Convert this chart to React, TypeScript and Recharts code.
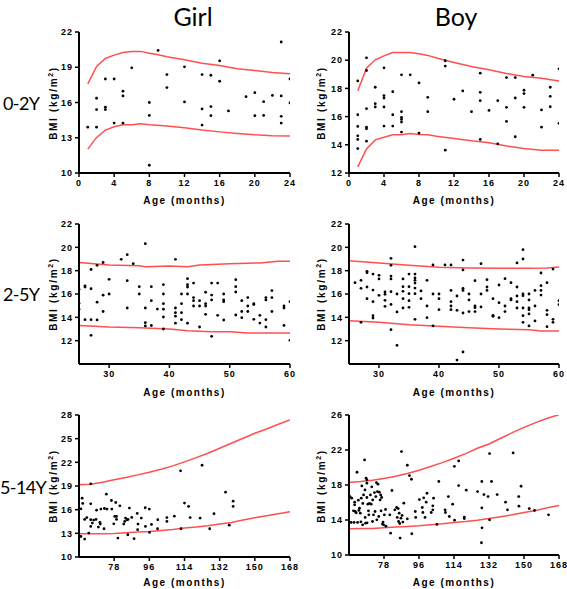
import { ComposedChart, Line, Scatter, XAxis, YAxis } from "recharts";

type Pt = [number, number];

// 0-2Y
const girlInfantPoints: Pt[] = [
  [1, 13.9], [2, 16.36], [2, 15.4], [2, 13.9], [3, 18.0], [3, 15.6], [3, 15.4], [4, 18.0], [4, 14.25],
  [5, 16.96], [5, 16.56], [5, 14.25], [6, 18.95], [8, 16.0], [8, 14.9], [8, 10.66], [9, 20.43], [10, 18.38],
  [10, 17.27], [12, 19.04], [12, 16.05], [14, 18.38], [14, 15.45], [14, 14.08], [15, 18.32], [15, 15.65],
  [15, 14.88], [16, 19.55], [16, 17.81], [17, 15.28], [19, 16.5], [20, 16.84], [20, 14.88], [21, 16.07],
  [21, 14.9], [22, 16.6], [23, 21.15], [23, 16.56], [23, 14.82], [23, 14.25], [24, 18.0], [24, 15.96],
];
const girlInfantUpper: Pt[] = [
  [1, 17.58], [2, 19.07], [3, 19.75], [4, 20.03], [5, 20.26], [6, 20.35], [7, 20.35], [8, 20.2], [9, 20.06],
  [10, 19.9], [12, 19.64], [14, 19.35], [16, 19.15], [18, 18.87], [20, 18.72], [22, 18.55], [24, 18.44],
];
const girlInfantLower: Pt[] = [
  [1, 12.03], [2, 13.03], [3, 13.65], [4, 13.94], [5, 14.1], [6, 14.1], [7, 14.2], [8, 14.1], [10, 14.0],
  [12, 13.85], [14, 13.65], [16, 13.5], [18, 13.37], [20, 13.25], [22, 13.17], [24, 13.14],
];

const boyInfantPoints: Pt[] = [
  [1, 18.53], [1, 16.13], [1, 15.3], [1, 14.64], [1, 14.38], [1, 13.73], [2, 20.17], [2, 19.27], [2, 16.56],
  [2, 15.25], [2, 15.14], [2, 14.26], [3, 18.08], [3, 16.92], [3, 16.68], [4, 19.46], [4, 17.49], [4, 17.32],
  [4, 16.68], [4, 15.33], [5, 17.77], [5, 16.13], [5, 15.33], [6, 18.96], [6, 16.35], [6, 15.94], [6, 15.8],
  [6, 15.61], [6, 14.9], [7, 18.96], [8, 18.39], [8, 14.83], [9, 17.37], [9, 16.35], [11, 19.96], [11, 19.58],
  [11, 13.62], [12, 17.23], [13, 17.82], [14, 16.35], [15, 19.08], [15, 17.72], [15, 17.13], [15, 14.38],
  [16, 16.44], [17, 17.13], [17, 14.07], [18, 18.77], [18, 16.66], [18, 15.66], [19, 18.77], [19, 17.32],
  [19, 14.57], [20, 17.87], [20, 17.63], [20, 16.66], [21, 18.94], [22, 16.47], [22, 15.25], [23, 18.08],
  [23, 17.44], [23, 16.7], [24, 19.39], [24, 15.52],
];
const boyInfantUpper: Pt[] = [
  [1, 17.84], [2, 19.43], [3, 20.03], [4, 20.31], [5, 20.55], [6, 20.55], [7, 20.55], [8, 20.46], [9, 20.34],
  [10, 20.15], [12, 19.84], [14, 19.55], [16, 19.32], [18, 19.06], [20, 18.84], [22, 18.72], [24, 18.53],
];
const boyInfantLower: Pt[] = [
  [1, 12.43], [2, 13.71], [3, 14.35], [4, 14.54], [5, 14.71], [6, 14.71], [7, 14.8], [8, 14.73], [9, 14.71],
  [10, 14.61], [12, 14.45], [14, 14.28], [16, 14.14], [18, 13.92], [20, 13.73], [22, 13.62], [24, 13.62],
];

// 2-5Y
const girlToddlerPoints: Pt[] = [
  [25, 16.4], [25, 15.2], [25, 14.7], [26, 16.7], [26, 16.6], [26, 13.8], [27, 18.1], [27, 16.45], [27, 13.8],
  [27, 12.46], [28, 18.46], [28, 15.3], [28, 13.78], [29, 18.7], [29, 15.9], [29, 14.5], [30, 17.26], [30, 16.0],
  [32, 18.97], [33, 19.37], [33, 17.14], [33, 14.8], [34, 18.6], [35, 16.63], [35, 16.0], [36, 20.31],
  [36, 14.8], [36, 13.54], [36, 13.26], [37, 16.63], [37, 15.43], [37, 13.3], [38, 14.71], [39, 16.8],
  [39, 16.0], [39, 15.17], [39, 14.7], [39, 14.03], [39, 13.0], [41, 18.97], [41, 14.8], [41, 14.4], [41, 14.1],
  [41, 13.5], [42, 16.0], [42, 15.17], [42, 14.4], [42, 13.8], [43, 17.31], [43, 16.8], [43, 16.6], [43, 16.0],
  [43, 13.5], [44, 16.94], [44, 15.69], [44, 15.43], [44, 14.97], [45, 15.43], [45, 14.97], [45, 13.17],
  [46, 16.15], [46, 15.17], [46, 14.97], [46, 14.26], [47, 16.94], [47, 15.91], [47, 15.49], [47, 12.37],
  [48, 16.94], [48, 14.17], [49, 16.0], [49, 15.49], [49, 15.34], [49, 13.77], [51, 17.23], [51, 16.63],
  [51, 16.17], [51, 14.2], [52, 15.43], [52, 14.5], [52, 13.97], [53, 15.69], [53, 14.97], [53, 14.5],
  [54, 15.17], [54, 15.1], [54, 13.83], [55, 14.17], [55, 13.51], [56, 15.69], [56, 15.49], [56, 13.8],
  [56, 13.17], [57, 16.29], [57, 15.69], [57, 14.5], [59, 14.97], [59, 14.8], [59, 13.31], [60, 15.34], [60, 12.03],
];
const girlToddlerUpper: Pt[] = [
  [25, 18.71], [30, 18.49], [35, 18.43], [36, 18.34], [40, 18.4], [43, 18.34], [45, 18.49], [50, 18.6],
  [55, 18.66], [58, 18.8], [60, 18.8],
];
const girlToddlerLower: Pt[] = [
  [25, 13.29], [30, 13.17], [35, 13.11], [40, 13.0], [43, 12.86], [47, 12.77], [50, 12.77], [53, 12.66], [60, 12.66],
];

const boyToddlerPoints: Pt[] = [
  [26, 16.97], [27, 17.17], [27, 16.49], [27, 13.57], [28, 17.94], [28, 17.83], [28, 16.6], [28, 15.6],
  [29, 17.71], [29, 16.34], [29, 15.34], [29, 14.14], [29, 13.94], [30, 17.6], [30, 17.29], [30, 15.89],
  [31, 16.17], [31, 15.97], [31, 15.46], [31, 14.94], [32, 19.06], [32, 18.46], [32, 17.54], [32, 17.29],
  [32, 16.2], [32, 15.11], [32, 12.94], [33, 16.0], [33, 14.46], [33, 11.6], [34, 17.29], [34, 16.63],
  [34, 16.23], [34, 15.6], [34, 14.8], [35, 17.71], [35, 16.63], [35, 16.03], [35, 15.43], [35, 14.86],
  [36, 20.06], [36, 17.71], [36, 17.37], [36, 17.17], [36, 16.94], [36, 16.51], [36, 16.03], [36, 13.83],
  [37, 16.26], [37, 15.6], [38, 17.17], [38, 14.97], [38, 13.97], [39, 18.49], [39, 16.0], [39, 13.26],
  [40, 16.0], [40, 15.6], [40, 14.66], [41, 18.49], [42, 18.49], [42, 16.31], [42, 15.34], [42, 14.97],
  [42, 14.66], [43, 15.83], [43, 14.6], [43, 10.34], [44, 18.91], [44, 18.06], [44, 16.49], [44, 16.31],
  [44, 14.37], [44, 11.03], [45, 16.0], [45, 15.49], [45, 14.49], [46, 17.14], [46, 14.97], [46, 14.83],
  [46, 14.49], [47, 18.6], [47, 16.0], [47, 14.89], [48, 17.23], [48, 16.6], [48, 16.31], [49, 15.6],
  [49, 14.17], [49, 14.09], [50, 16.77], [50, 15.26], [50, 13.97], [51, 17.31], [51, 14.97], [51, 14.49],
  [52, 16.97], [52, 15.6], [52, 15.49], [53, 18.66], [53, 16.6], [53, 15.83], [53, 15.34], [53, 14.8],
  [54, 19.8], [54, 19.0], [54, 16.0], [54, 15.86], [54, 14.8], [54, 14.14], [54, 13.57], [55, 16.0],
  [55, 15.49], [55, 14.8], [55, 14.66], [55, 14.29], [55, 13.26], [56, 16.31], [56, 14.97], [56, 13.69],
  [57, 17.8], [57, 16.71], [57, 16.31], [57, 15.91], [58, 16.97], [58, 14.6], [58, 14.23], [58, 13.2],
  [59, 18.14], [59, 13.83], [59, 13.57], [60, 15.43], [60, 15.09],
];
const boyToddlerUpper: Pt[] = [
  [25, 18.86], [30, 18.66], [35, 18.46], [40, 18.29], [45, 18.23], [50, 18.2], [55, 18.2], [58, 18.23], [60, 18.31],
];
const boyToddlerLower: Pt[] = [
  [25, 13.71], [30, 13.57], [35, 13.37], [40, 13.23], [45, 13.11], [50, 13.0], [55, 12.94], [57, 12.83], [60, 12.83],
];

// 5-14Y
const girlChildPoints: Pt[] = [
  [61.6, 17.46], [61.9, 16.79], [61, 16.11], [61, 12.6], [62.9, 14.76], [62.9, 12.27], [64, 15.0], [65, 13.03],
  [66, 19.27], [66, 16.74], [66, 14.72], [66, 13.88], [66.8, 14.3], [67.5, 14.68], [68.7, 14.76], [69, 15.94],
  [69.9, 13.79], [70.7, 14.38], [70.9, 14.17], [71.2, 16.07], [72.8, 13.58], [73, 16.15], [74, 17.97],
  [74.3, 16.07], [76.6, 17.16], [76.8, 16.07], [77.8, 14.21], [78.3, 15.14], [78.8, 16.91], [79.2, 15.14],
  [79.2, 14.76], [79.9, 12.4], [80.9, 16.49], [82.9, 14.17], [83.4, 14.51], [83.8, 14.93], [84.6, 14.72],
  [85, 12.82], [85.1, 14.76], [85.8, 16.2], [87, 15.02], [88.2, 12.32], [89.8, 15.52], [90, 13.46],
  [90.2, 14.17], [91.9, 14.93], [93.9, 16.24], [94, 13.88], [96, 16.07], [96.1, 13.12], [97.1, 14.13],
  [100.2, 13.58], [100.3, 14.72], [105, 15.0], [105, 14.51], [108.8, 15.18], [112, 20.92], [112.2, 13.58],
  [114, 16.83], [116.1, 16.41], [116.9, 15.0], [122, 14.93], [123, 21.63], [126.9, 13.58], [129.1, 15.48],
  [135, 18.22], [136.9, 14.04], [138.9, 17.08], [138.9, 16.41],
];
const girlChildUpper: Pt[] = [
  [60, 19.15], [66, 19.23], [72, 19.48], [78, 19.78], [84, 20.07], [90, 20.41], [96, 20.75], [102, 21.13],
  [108, 21.55], [114, 22.06], [120, 22.6], [126, 23.15], [132, 23.78], [138, 24.42], [144, 25.05],
  [150, 25.68], [156, 26.23], [162, 26.82], [168, 27.37],
];
const girlChildLower: Pt[] = [
  [60, 12.95], [66, 12.95], [72, 12.95], [78, 12.99], [84, 13.08], [90, 13.16], [96, 13.24], [102, 13.37],
  [108, 13.5], [114, 13.67], [120, 13.79], [126, 13.96], [132, 14.17], [138, 14.38], [144, 14.68],
  [150, 14.97], [156, 15.23], [162, 15.48], [168, 15.73],
];

const boyChildPoints: Pt[] = [
  [60.5, 16.68], [61.4, 16.49], [61.1, 13.72], [62.3, 15.05], [62.6, 13.72], [62.9, 16.04], [62.9, 15.73],
  [63.2, 14.97], [63.7, 14.82], [64.1, 19.46], [64.4, 13.72], [64.8, 16.27], [65.1, 15.09], [65.4, 15.35],
  [65.8, 14.78], [66.1, 13.79], [66.3, 16.49], [66.6, 17.9], [67, 13.45], [67.1, 15.89], [67.5, 16.87],
  [68, 20.87], [68.2, 17.44], [68.3, 14.29], [68.5, 13.64], [68.8, 18.78], [69.2, 18.59], [69.2, 18.21],
  [69.2, 16.57], [69.3, 13.68], [69.7, 15.81], [70, 15.05], [70.2, 14.59], [70.5, 15.89], [71, 16.87],
  [71.4, 15.81], [71.7, 17.79], [72.1, 13.83], [72.2, 16.3], [72.6, 14.59], [73.1, 17.14], [73.4, 14.97],
  [73.8, 16.68], [74.1, 18.28], [74.3, 14.02], [74.6, 17.25], [74.9, 18.09], [75.3, 14.4], [75.6, 17.18],
  [76, 16.3], [76.3, 16.87], [76.5, 15.05], [76.8, 16.57], [77.2, 13.53], [77.5, 13.76], [77.8, 13.45],
  [78.2, 14.59], [78.8, 15.2], [79, 13.3], [81, 14.59], [81.4, 12.5], [82.1, 17.37], [83.6, 15.16],
  [84.5, 15.43], [84.8, 14.29], [85.3, 15.31], [85.5, 13.83], [85.8, 14.78], [86.1, 13.6], [86.3, 11.93],
  [86.7, 14.21], [87, 21.82], [87.3, 14.52], [87.7, 13.76], [88.2, 15.92], [90, 14.14], [90, 20.26],
  [91.1, 19.08], [92.1, 18.66], [92.3, 12.43], [94.1, 14.97], [94.3, 14.29], [96.2, 16.34], [97.7, 15.43],
  [98, 14.86], [98.4, 16.53], [99.1, 14.29], [99.7, 16.04], [100.1, 17.06], [102.3, 14.86], [103.1, 15.62],
  [103.1, 15.16], [103.5, 16.49], [105.2, 13.49], [106.2, 18.4], [109.4, 15.16], [109.6, 14.86],
  [111.1, 16.68], [111.6, 14.4], [113.3, 15.81], [114.2, 20.14], [114.3, 13.98], [116.4, 20.75],
  [116.4, 17.94], [119.3, 14.33], [119.3, 14.17], [120.3, 17.41], [126.1, 17.25], [128.1, 11.4],
  [128.3, 18.4], [128.3, 15.39], [128.4, 13.11], [129.4, 16.91], [131.5, 16.68], [132.3, 21.59],
  [132.3, 14.02], [133.3, 18.4], [136.2, 16.91], [140.5, 16.04], [141.5, 15.16], [144.4, 21.67],
  [147.3, 16.68], [147.4, 15.58], [148.5, 17.86], [152.7, 15.31], [155.4, 15.09], [162.6, 14.59],
];
const boyChildUpper: Pt[] = [
  [60, 18.28], [66, 18.4], [72, 18.55], [78, 18.74], [84, 19.0], [90, 19.31], [96, 19.69], [102, 20.11],
  [108, 20.56], [114, 21.06], [120, 21.59], [126, 22.2], [132, 22.69], [138, 23.34], [144, 23.98],
  [150, 24.59], [156, 25.13], [162, 25.62], [168, 26.04],
];
const boyChildLower: Pt[] = [
  [60, 12.99], [66, 13.03], [72, 13.03], [78, 13.11], [84, 13.19], [90, 13.26], [96, 13.34], [102, 13.45],
  [108, 13.57], [114, 13.72], [120, 13.83], [126, 13.98], [132, 14.17], [138, 14.37], [144, 14.59],
  [150, 14.86], [156, 15.09], [162, 15.39], [168, 15.66],
];

const infantAgeTicks = [0, 4, 8, 12, 16, 20, 24];
const toddlerAgeTicks = [30, 40, 50, 60];
const childAgeTicks = [78, 96, 114, 132, 150, 168];
const girlInfantBmiTicks = [10, 13, 16, 19, 22];
const boyInfantBmiTicks = [12, 14, 16, 18, 20, 22];
const toddlerBmiTicks = [12, 14, 16, 18, 20, 22];
const girlChildBmiTicks = [10, 13, 16, 19, 22, 25, 28];
const boyChildBmiTicks = [10, 14, 18, 22, 26];

const sexLabels = ["Girl", "Boy"];
const ageGroupLabels = ["0-2Y", "2-5Y", "5-14Y"];

const toXY = (pts: Pt[]) => pts.map(([x, y]) => ({ x, y }));

function Dot(props: any) {
  const { cx, cy } = props;
  if (cx == null || cy == null) return null;
  return <circle cx={cx} cy={cy} r={1.4} fill="#000" />;
}

const tickStyle = { fontSize: 9, fontWeight: 700, fill: "#000", fontFamily: "Liberation Sans, Arial", letterSpacing: 1 };

type PanelProps = {
  left: number;
  top: number;
  w: number;
  h: number;
  xDomain: [number, number];
  xTicks: number[];
  yDomain: [number, number];
  yTicks: number[];
  points: Pt[];
  upper: Pt[];
  lower: Pt[];
};

function Panel(p: PanelProps) {
  const padL = 40, padT = 8, padR = 8, padB = 22;
  const axisLine = { stroke: "#000", strokeWidth: 2 };
  const tickLine = { stroke: "#000", strokeWidth: 1.5 };
  return (
    <div style={{ position: "absolute", left: p.left - padL, top: p.top - padT }}>
      <ComposedChart
        width={p.w + padL + padR}
        height={p.h + padT + padB}
        margin={{ top: padT, right: padR, left: 0, bottom: 0 }}
      >
        <XAxis
          type="number"
          dataKey="x"
          domain={p.xDomain}
          ticks={p.xTicks}
          interval={0}
          allowDataOverflow
          height={padB}
          tick={tickStyle}
          tickSize={4}
          tickMargin={3}
          axisLine={axisLine}
          tickLine={tickLine}
        />
        <YAxis
          type="number"
          dataKey="y"
          domain={p.yDomain}
          ticks={p.yTicks}
          interval={0}
          allowDataOverflow
          width={padL}
          tick={tickStyle}
          tickSize={4}
          tickMargin={2}
          axisLine={axisLine}
          tickLine={tickLine}
        />
        <Line data={toXY(p.upper)} dataKey="y" type="linear" stroke="#ff4f4f" strokeWidth={1.5} dot={false} activeDot={false} isAnimationActive={false} />
        <Line data={toXY(p.lower)} dataKey="y" type="linear" stroke="#ff4f4f" strokeWidth={1.5} dot={false} activeDot={false} isAnimationActive={false} />
        <Scatter data={toXY(p.points)} shape={Dot} isAnimationActive={false} />
      </ComposedChart>
    </div>
  );
}

function Text({ x, y, size, bold, spacing, rotate, alignLeft, children }: any) {
  return (
    <div
      style={{
        position: "absolute",
        left: x,
        top: y,
        transform: `translate(${alignLeft ? "0" : "-50%"}, -50%)${rotate ? " rotate(-90deg)" : ""}`,
        whiteSpace: "nowrap",
        fontSize: size,
        fontWeight: bold ? 700 : 400,
        letterSpacing: spacing ?? 0,
        fontFamily: bold ? "Liberation Sans, Arial" : "Lato, 'Open Sans', sans-serif",
        lineHeight: 1,
        color: "#000",
      }}
    >
      {children}
    </div>
  );
}

export default function App() {
  const cols = [79, 349];
  const w = [211, 210];
  const rows = [
    { top: 32, h: 141, titleY: 201 },
    { top: 224, h: 140, titleY: 393 },
    { top: 415, h: 141, titleY: 583 },
  ];
  const bmiTitle = (
    <>
      BMI (kg/m<sup style={{ fontSize: 7 }}>2</sup>)
    </>
  );
  return (
    <div style={{ position: "absolute", left: 0, top: 0, width: 567, height: 589, background: "#fff", overflow: "hidden" }}>
      <Text x={193} y={16} size={25}>{sexLabels[0]}</Text>
      <Text x={456} y={16} size={25}>{sexLabels[1]}</Text>
      {ageGroupLabels.map((label, i) => (
        <Text key={label} x={i === 2 ? 0 : 3} y={[103, 294, 487][i]} size={18} spacing={-0.6} alignLeft>
          {label}
        </Text>
      ))}
      {rows.map((r, i) =>
        cols.map((c, j) => (
          <div key={`${i}-${j}`}>
            <Text x={c + w[j] / 2} y={r.titleY} size={10} bold spacing={1.5}>Age (months)</Text>
            <Text x={j === 0 ? 53 : 321} y={r.top + r.h / 2} size={10} bold spacing={1.7} rotate>
              {bmiTitle}
            </Text>
          </div>
        ))
      )}
      <Panel left={cols[0]} top={rows[0].top} w={w[0]} h={rows[0].h} xDomain={[0, 24]} xTicks={infantAgeTicks}
        yDomain={[10, 22]} yTicks={girlInfantBmiTicks} points={girlInfantPoints} upper={girlInfantUpper} lower={girlInfantLower} />
      <Panel left={cols[1]} top={rows[0].top} w={w[1]} h={rows[0].h} xDomain={[0, 24]} xTicks={infantAgeTicks}
        yDomain={[12, 22]} yTicks={boyInfantBmiTicks} points={boyInfantPoints} upper={boyInfantUpper} lower={boyInfantLower} />
      <Panel left={cols[0]} top={rows[1].top} w={w[0]} h={rows[1].h} xDomain={[25, 60]} xTicks={toddlerAgeTicks}
        yDomain={[10, 22]} yTicks={toddlerBmiTicks} points={girlToddlerPoints} upper={girlToddlerUpper} lower={girlToddlerLower} />
      <Panel left={cols[1]} top={rows[1].top} w={w[1]} h={rows[1].h} xDomain={[25, 60]} xTicks={toddlerAgeTicks}
        yDomain={[10, 22]} yTicks={toddlerBmiTicks} points={boyToddlerPoints} upper={boyToddlerUpper} lower={boyToddlerLower} />
      <Panel left={cols[0]} top={rows[2].top} w={w[0]} h={142} xDomain={[60, 168]} xTicks={childAgeTicks}
        yDomain={[10, 28]} yTicks={girlChildBmiTicks} points={girlChildPoints} upper={girlChildUpper} lower={girlChildLower} />
      <Panel left={cols[1]} top={rows[2].top} w={w[1]} h={140} xDomain={[60, 168]} xTicks={childAgeTicks}
        yDomain={[10, 26]} yTicks={boyChildBmiTicks} points={boyChildPoints} upper={boyChildUpper} lower={boyChildLower} />
    </div>
  );
}
